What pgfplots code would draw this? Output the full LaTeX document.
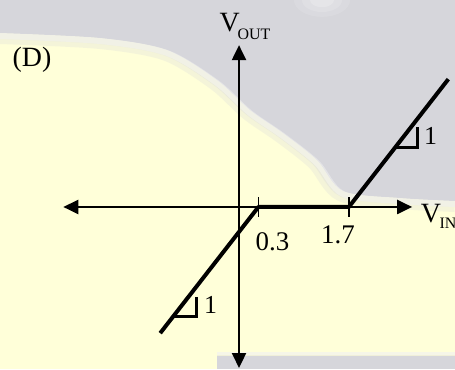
\documentclass[border=0pt]{standalone}
\usepackage{pgfplots}
\pgfplotsset{compat=1.18}
\usetikzlibrary{arrows.meta}
\usepackage{fontspec}
\setmainfont{Liberation Serif}

\definecolor{bgyellow}{RGB}{255,255,217}
\definecolor{bggray}{RGB}{214,214,219}

\tikzset{axisarrow/.style={line width=2.2bp,
  {Triangle[length=15bp,width=14bp]}-{Triangle[length=15bp,width=14bp]}}}

\def\edgepath{(0,336) (100,331) (167,319) (217,289)
  (250,259) (283,236) (317,209) (343,178) (400,171) (455,168)}

\begin{document}
\begin{tikzpicture}[x=1bp,y=1bp]
\path[use as bounding box] (0,0) rectangle (455,369);
\clip (0,0) rectangle (455,369);

% slide backdrop with a soft edge
\fill[bgyellow] (0,0) rectangle (455,369);
\fill[bggray] plot[smooth] coordinates {\edgepath}
  -- (455,369) -- (0,369) -- cycle;
\draw[bggray, opacity=0.25, line width=22bp] plot[smooth] coordinates {\edgepath};
\draw[bggray, opacity=0.3, line width=12bp] plot[smooth] coordinates {\edgepath};
\draw[white, opacity=0.35, line width=6bp, yshift=-3bp] plot[smooth] coordinates {\edgepath};
\foreach \r/\o in {28/0.12,20/0.15,12/0.2}
  \fill[white, opacity=\o] (322,369) ellipse ({\r} and {0.6*\r});
\fill[bggray] (217,0) rectangle (455,13);
\draw[bggray, opacity=0.35, line width=6bp] (217,14) -- (455,14);
\draw[white, opacity=0.4, line width=3bp] (217,16) -- (455,16);

\begin{axis}[
  at={(63.3bp,1bp)}, anchor=south west,
  x=64.6bp, y=83bp,
  xmin=-2.72, xmax=2.68, ymin=-1.94, ymax=1.95,
  axis lines=middle,
  axis line style={axisarrow},
  every inner x axis line/.append style={axisarrow},
  every inner y axis line/.append style={axisarrow},
  xtick={0.3,1.7}, ytick=\empty,
  xticklabels={},
  major tick length=20bp, tick align=center,
  tick style={black, line width=1.6bp},
  clip=false,
]
% transfer characteristic
\addplot[black, line width=4bp, line join=round]
  coordinates {(-1.22,-1.52) (0.3,0) (1.7,0) (3.24,1.54)};
% slope indicators
\addplot[black, line width=3bp, line join=miter]
  coordinates {(2.42,0.72) (2.76,0.72) (2.76,0.96)};
\addplot[black, line width=3bp, line join=miter]
  coordinates {(-1.02,-1.32) (-0.66,-1.32) (-0.66,-1.08)};
\end{axis}

% labels
\node[anchor=base west, inner sep=0, font=\fontsize{28}{30}\selectfont] at (12.5,302.3) {(D)};
\node[anchor=base west, inner sep=0] at (219.3,337.3)
  {\fontsize{28}{30}\selectfont V\kern-2bp\raisebox{-7.6bp}{\fontsize{16}{18}\selectfont OUT}};
\node[anchor=base west, inner sep=0] at (420.7,147)
  {\fontsize{28}{30}\selectfont V\kern-1.5bp\raisebox{-6.3bp}{\fontsize{16}{18}\selectfont IN}};
\node[anchor=base west, inner sep=0, font=\fontsize{27}{29}\selectfont] at (255.4,118.3) {0.3};
\node[anchor=base west, inner sep=0, font=\fontsize{27}{29}\selectfont] at (321,125.7) {1.7};
\node[anchor=base west, inner sep=0, font=\fontsize{26}{28}\selectfont] at (424,225) {1};
\node[anchor=base west, inner sep=0, font=\fontsize{26}{28}\selectfont] at (204,55.7) {1};
\end{tikzpicture}
\end{document}
